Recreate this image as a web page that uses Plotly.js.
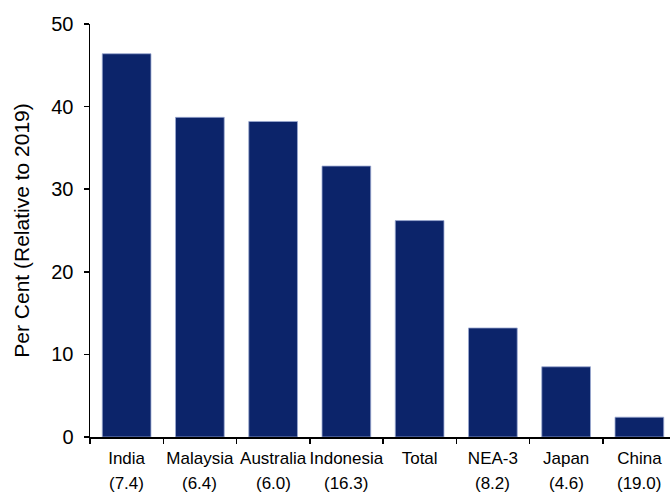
<!DOCTYPE html>
<html>
<head>
<meta charset="utf-8">
<script src="https://cdn.plot.ly/plotly-3.0.1.min.js"></script>
<style>html,body{margin:0;padding:0;background:#fff;}#chart{width:670px;height:494px;}</style>
</head>
<body>
<div id="chart"></div>
<script>
const categories = ["India", "Malaysia", "Australia", "Indonesia", "Total", "NEA-3", "Japan", "China"];
const values = [46.4, 38.7, 38.2, 32.8, 26.2, 13.2, 8.5, 2.4];
const shareLabels = ["(7.4)", "(6.4)", "(6.0)", "(16.3)", "", "(8.2)", "(4.6)", "(19.0)"];
const yTicks = [0, 10, 20, 30, 40, 50];

const FONT = "Liberation Sans, Arial, sans-serif";

const trace = {
  type: "bar",
  x: categories,
  y: values,
  width: 0.665,
  marker: { color: "#0C246A", line: { color: "#9AA8D0", width: 0.8 } },
  hoverinfo: "x+y"
};

const annotations = categories.map((c, i) => ({
  x: c, xref: "x", y: -0.113, yref: "paper",
  text: shareLabels[i], showarrow: false,
  xanchor: "center", yanchor: "middle", borderpad: 0,
  font: { family: FONT, size: 17, color: "#000" }
}));

const layout = {
  width: 670, height: 494,
  margin: { l: 90, r: 0, t: 24, b: 57 },
  paper_bgcolor: "#fff", plot_bgcolor: "#fff",
  showlegend: false,
  bargap: 0,
  xaxis: {
    type: "category",
    range: [-0.5, 7.418],
    showline: true, linecolor: "#000", linewidth: 1.5,
    ticks: "outside", tickson: "boundaries", ticklen: 5, tickwidth: 1.5, tickcolor: "#000",
    ticklabelstandoff: 5,
    tickangle: 0,
    showgrid: false, zeroline: false,
    tickfont: { family: FONT, size: 17, color: "#000" }
  },
  yaxis: {
    range: [0, 50],
    tickvals: yTicks,
    showline: true, linecolor: "#000", linewidth: 1.5,
    ticks: "outside", ticklen: 5, tickwidth: 1.5, tickcolor: "#000",
    ticklabelstandoff: 6,
    showgrid: false, zeroline: false,
    tickfont: { family: FONT, size: 20, color: "#000" },
    title: { text: "Per Cent (Relative to 2019)", font: { family: FONT, size: 21, color: "#000" }, standoff: 16 }
  },
  annotations: annotations
};

Plotly.newPlot("chart", [trace], layout, { displayModeBar: false, staticPlot: true });
</script>
</body>
</html>
